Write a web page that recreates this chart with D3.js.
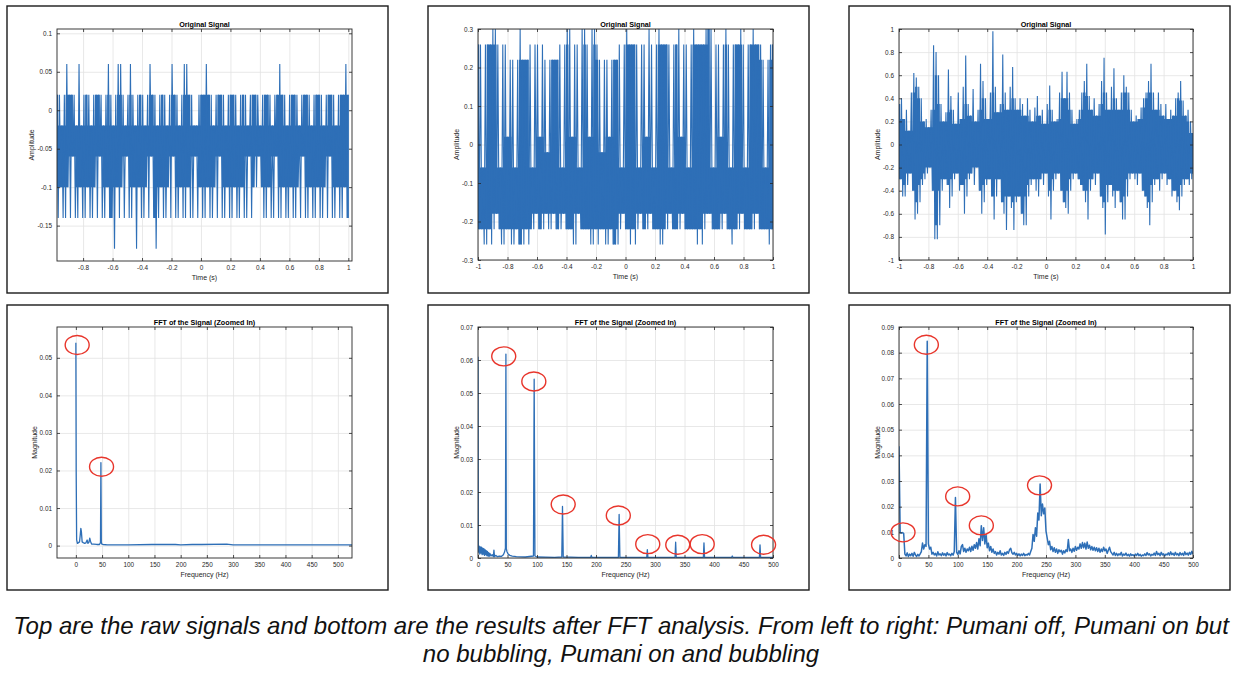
<!DOCTYPE html>
<html>
<head>
<meta charset="utf-8">
<script src="https://cdn.jsdelivr.net/npm/d3@7"></script>
<style>
body { margin: 0; background: #fff; }
svg text { font-family: "Liberation Sans", Arial, sans-serif; }
</style>
</head>
<body>
<div id="chart"></div>
<script>
// ---- tick labels ----
const timeTicks = [-1, -0.8, -0.6, -0.4, -0.2, 0, 0.2, 0.4, 0.6, 0.8, 1];
const freqTicks = [0, 50, 100, 150, 200, 250, 300, 350, 400, 450, 500];
const ampTicks1 = [-0.15, -0.1, -0.05, 0, 0.05, 0.1];
const ampTicks2 = [-0.3, -0.2, -0.1, 0, 0.1, 0.2, 0.3];
const ampTicks3 = [-1, -0.8, -0.6, -0.4, -0.2, 0, 0.2, 0.4, 0.6, 0.8, 1];
const magTicks1 = [0, 0.01, 0.02, 0.03, 0.04, 0.05];
const magTicks2 = [0, 0.01, 0.02, 0.03, 0.04, 0.05, 0.06, 0.07];
const magTicks3 = [0, 0.01, 0.02, 0.03, 0.04, 0.05, 0.06, 0.07, 0.08, 0.09];

// ---- raw signals: max / min of each short time slice ----
// Pumani off
const hi1 = [0.02,0.02,-0.02,0.02,0.06,0.02,0.02,0.02,-0.02,0.06,
  -0.02,0.02,0.02,0.02,-0.02,0.02,0.02,0.02,0.02,-0.02,
  0.02,0.06,0.02,-0.02,0.02,0.06,0.06,0.02,-0.02,0.02,
  0.06,0.02,-0.02,0.02,0.02,0.02,-0.02,0.02,0.06,0.02,
  0.02,-0.02,0.02,0.02,0.02,-0.02,0.02,0.06,0.02,0.02,
  -0.02,0.02,0.06,0.06,0.02,0.02,-0.02,-0.02,0.02,0.02,
  0.02,0.06,0.02,0.02,-0.02,0.02,0.02,0.02,0.02,-0.02,
  0.02,0.02,0.02,0.02,-0.02,0.02,0.02,0.02,-0.02,0.02,
  0.02,0.02,0.02,-0.02,0.02,0.02,0.02,0.02,-0.02,0.02,
  0.02,0.06,0.02,0.02,-0.02,0.02,0.02,0.02,0.02,-0.02,
  0.02,0.02,0.02,0.02,-0.02,0.02,0.02,0.02,0.02,-0.02,
  0.02,0.02,0.02,0.02,-0.02,0.02,0.02,0.02,0.06,0.02];
const lo1 = [-0.14,-0.1,-0.14,-0.14,-0.1,-0.14,-0.06,-0.14,-0.14,-0.1,
  -0.14,-0.14,-0.1,-0.14,-0.14,-0.1,-0.14,-0.06,-0.14,-0.14,
  -0.1,-0.14,-0.14,-0.18,-0.1,-0.14,-0.1,-0.14,-0.06,-0.14,
  -0.14,-0.1,-0.18,-0.1,-0.14,-0.14,-0.1,-0.14,-0.06,-0.14,
  -0.18,-0.14,-0.1,-0.14,-0.14,-0.1,-0.14,-0.06,-0.14,-0.14,
  -0.1,-0.14,-0.14,-0.1,-0.14,-0.14,-0.06,-0.14,-0.1,-0.14,
  -0.14,-0.1,-0.14,-0.14,-0.1,-0.14,-0.06,-0.14,-0.14,-0.1,
  -0.14,-0.14,-0.1,-0.14,-0.14,-0.1,-0.14,-0.14,-0.06,-0.14,
  -0.1,-0.1,-0.06,-0.1,-0.14,-0.14,-0.1,-0.14,-0.14,-0.06,
  -0.14,-0.14,-0.1,-0.14,-0.14,-0.1,-0.14,-0.14,-0.1,-0.14,
  -0.06,-0.14,-0.14,-0.1,-0.14,-0.14,-0.1,-0.14,-0.14,-0.1,
  -0.14,-0.06,-0.14,-0.14,-0.1,-0.14,-0.14,-0.1,-0.14,-0.14];

// Pumani on, no bubbling
const hi2 = [0.26,0.26,-0.06,0.26,0.26,0.26,0.3,0.3,0.26,-0.06,
  0.26,0.26,0.02,0.22,0.22,-0.06,0.22,0.3,0.22,0.22,
  0.22,0.26,-0.06,0.26,0.26,0.02,0.26,0.22,-0.02,0.22,
  0.22,0.22,0.22,0.26,-0.06,0.26,0.3,0.3,0.02,0.26,
  0.26,-0.06,0.3,0.3,0.26,0.02,0.3,0.3,0.26,0.22,
  -0.02,0.22,0.22,0.02,0.22,0.22,0.22,0.26,-0.06,0.26,
  0.3,0.26,0.26,0.26,0.26,-0.06,0.26,0.26,0.02,0.3,
  0.26,-0.06,0.26,0.3,0.26,0.26,0.26,0.26,-0.06,0.26,
  0.26,0.3,0.02,0.26,0.26,-0.06,0.26,0.3,0.26,0.26,
  0.26,0.26,0.3,0.3,0.3,-0.06,0.26,0.26,0.02,0.26,
  0.3,0.26,-0.06,0.26,0.26,0.26,0.3,0.26,-0.06,0.26,
  0.26,0.3,0.26,0.26,0.26,0.22,-0.06,0.22,0.26,0.26];
const lo2 = [-0.22,-0.22,-0.26,-0.26,-0.22,-0.26,-0.22,-0.18,-0.22,-0.26,
  -0.26,-0.22,-0.22,-0.26,-0.26,-0.22,-0.26,-0.26,-0.26,-0.22,
  -0.26,-0.22,-0.22,-0.18,-0.22,-0.22,-0.22,-0.18,-0.22,-0.22,
  -0.18,-0.22,-0.22,-0.22,-0.18,-0.22,-0.22,-0.22,-0.26,-0.26,
  -0.18,-0.22,-0.22,-0.22,-0.22,-0.26,-0.26,-0.22,-0.26,-0.22,
  -0.22,-0.26,-0.26,-0.22,-0.26,-0.26,-0.26,-0.22,-0.18,-0.22,
  -0.22,-0.26,-0.22,-0.26,-0.22,-0.18,-0.22,-0.22,-0.22,-0.18,
  -0.22,-0.22,-0.22,-0.26,-0.26,-0.22,-0.22,-0.18,-0.22,-0.22,
  -0.22,-0.22,-0.18,-0.22,-0.22,-0.22,-0.22,-0.22,-0.26,-0.22,
  -0.26,-0.22,-0.18,-0.18,-0.22,-0.22,-0.22,-0.22,-0.22,-0.18,
  -0.22,-0.22,-0.26,-0.22,-0.22,-0.22,-0.18,-0.22,-0.22,-0.22,
  -0.22,-0.22,-0.18,-0.22,-0.22,-0.22,-0.22,-0.26,-0.22,-0.22];

// Pumani on and bubbling
const hi3 = [0.35,0.4,0.22,0.3,0.12,0.45,0.62,0.58,0.5,0.4,
  0.2,0.22,0.15,0.3,0.86,0.8,0.6,0.35,0.2,0.28,
  0.65,0.42,0.3,0.18,0.45,0.22,0.5,0.77,0.35,0.25,
  0.48,0.2,0.3,0.7,0.55,0.4,0.22,0.45,0.98,0.5,
  0.28,0.35,0.78,0.45,0.3,0.5,0.67,0.4,0.3,0.4,
  0.35,0.25,0.4,0.3,0.2,0.32,0.42,0.25,0.3,0.18,
  0.35,0.51,0.3,0.2,0.22,0.45,0.63,0.4,0.63,0.45,
  0.3,0.18,0.22,0.3,0.45,0.55,0.7,0.42,0.3,0.4,
  0.25,0.35,0.55,0.75,0.45,0.3,0.5,0.66,0.4,0.3,
  0.45,0.6,0.5,0.45,0.3,0.2,0.25,0.22,0.32,0.4,
  0.45,0.55,0.7,0.45,0.3,0.45,0.35,0.25,0.35,0.22,
  0.3,0.25,0.4,0.45,0.55,0.38,0.25,0.3,0.2,0.1];
const lo3 = [-0.3,-0.45,-0.45,-0.35,-0.25,-0.4,-0.65,-0.6,-0.5,-0.35,
  -0.3,-0.25,-0.2,-0.4,-0.82,-0.82,-0.7,-0.4,-0.3,-0.35,
  -0.55,-0.45,-0.3,-0.25,-0.4,-0.35,-0.6,-0.45,-0.3,-0.25,
  -0.35,-0.2,-0.4,-0.6,-0.5,-0.35,-0.3,-0.45,-0.65,-0.45,
  -0.3,-0.5,-0.6,-0.74,-0.45,-0.55,-0.74,-0.5,-0.45,-0.6,
  -0.7,-0.7,-0.45,-0.35,-0.3,-0.4,-0.45,-0.3,-0.35,-0.25,
  -0.45,-0.65,-0.4,-0.3,-0.25,-0.4,-0.5,-0.55,-0.6,-0.4,
  -0.3,-0.25,-0.3,-0.35,-0.4,-0.5,-0.65,-0.4,-0.3,-0.35,
  -0.25,-0.45,-0.55,-0.78,-0.5,-0.35,-0.45,-0.55,-0.4,-0.5,
  -0.65,-0.65,-0.45,-0.3,-0.25,-0.3,-0.35,-0.25,-0.4,-0.45,
  -0.55,-0.7,-0.5,-0.35,-0.3,-0.4,-0.3,-0.25,-0.35,-0.3,
  -0.45,-0.4,-0.5,-0.57,-0.45,-0.35,-0.3,-0.35,-0.3,-0.25];

// ---- FFT magnitudes ----
const freq4 = [0,0.6,1.5,3,5,7,8.5,9.5,10.5,12,14,17,19,21.5,23,25,26.5,28,30,34,
  40,45,47,47.8,48.6,49.5,52,60,80,100,145,190,200,222,240,288,300,400,527];
const mag4 = [0.054,0.02,0.0015,0.0006,0.0008,0.001,0.003,0.0046,0.0038,0.001,
  0.0008,0.0006,0.0007,0.0015,0.0006,0.0009,0.002,0.0011,0.0004,0.0004,
  0.0003,0.0003,0.0008,0.0221,0.0009,0.0004,0.0003,0.0002,0.0002,0.0002,
  0.0003,0.0003,0.0002,0.0003,0.0003,0.0004,0.0002,0.0002,0.0002];

const freq5 = [0,0.5,1,2,3,4,5,6,7,8,9,10,11,12,13,14,15,16,17,18,
  19,20,22,24,26,27,28,30,33,36,40,43,45,46.5,47.3,48,49,51,54,58,
  65,80,94,95.2,96.5,100,130,142,143.2,144.5,170,191,192,193,220,238,239.2,240.5,286,287,
  288,334,335,336,382,383,384,430,431,432,477,478,479,500];
const mag5 = [0.061,0.003,0.0018,0.0036,0.0012,0.0034,0.0015,0.0033,0.001,0.003,
  0.0012,0.0028,0.0008,0.0025,0.001,0.0022,0.0007,0.002,0.0006,0.0016,
  0.0005,0.0014,0.0006,0.001,0.0004,0.0024,0.0004,0.0008,0.0004,0.0006,
  0.0005,0.001,0.0018,0.003,0.0618,0.0028,0.002,0.0012,0.0008,0.0006,
  0.0004,0.0003,0.0006,0.0542,0.0006,0.0003,0.0002,0.0003,0.0156,0.0003,
  0.0002,0.0002,0.0008,0.0002,0.0002,0.0002,0.0132,0.0002,0.0002,0.0025,
  0.0002,0.0002,0.0048,0.0002,0.0002,0.0046,0.0002,0.0002,0.0006,0.0002,
  0.0002,0.004,0.0002,0.0002];

// every 2 Hz from 0 to 500
const mag6 = [0.0435,0.0098,0.0097,0.0099,0.0095,0.0015,0.0008,0.002,0.0006,0.0015,
  0.0009,0.0018,0.0007,0.0022,0.0012,0.0006,0.0014,0.0008,0.0016,0.0025,
  0.0058,0.0035,0.0052,0.0045,0.0844,0.0055,0.0035,0.0042,0.0015,0.0022,
  0.0012,0.0018,0.0008,0.0024,0.0012,0.0016,0.0009,0.002,0.0011,0.0017,
  0.0008,0.0021,0.0012,0.0015,0.0009,0.0018,0.0011,0.0025,0.0236,0.0022,
  0.0014,0.0028,0.0016,0.0045,0.0052,0.0025,0.0038,0.0022,0.0035,0.0028,
  0.0042,0.0025,0.0046,0.003,0.0052,0.0038,0.006,0.0035,0.0075,0.0048,
  0.0126,0.0068,0.0118,0.0055,0.0092,0.004,0.0058,0.0028,0.0045,0.0022,
  0.0035,0.0018,0.0025,0.0012,0.0022,0.0015,0.0028,0.0012,0.0018,0.001,
  0.0022,0.0014,0.0025,0.0018,0.0032,0.0038,0.002,0.0015,0.0022,0.0012,
  0.0018,0.001,0.0016,0.0008,0.0015,0.001,0.0018,0.0009,0.0014,0.0011,
  0.0018,0.0012,0.0025,0.0038,0.0092,0.0065,0.0118,0.0085,0.0175,0.0148,
  0.0288,0.0165,0.021,0.0172,0.0195,0.0105,0.0078,0.0052,0.0065,0.0032,
  0.0045,0.0025,0.004,0.0022,0.0035,0.0018,0.0032,0.0024,0.003,0.0015,
  0.0028,0.002,0.0032,0.0025,0.0072,0.0028,0.0035,0.0022,0.0038,0.0026,
  0.0045,0.003,0.0042,0.0035,0.0055,0.0038,0.006,0.004,0.0058,0.0035,
  0.0062,0.0038,0.005,0.0032,0.0045,0.003,0.0042,0.0028,0.004,0.0025,
  0.0038,0.0022,0.0035,0.0025,0.0042,0.0028,0.0035,0.0018,0.003,0.0042,
  0.0025,0.0018,0.0012,0.0022,0.001,0.0018,0.0009,0.0016,0.0012,0.0022,
  0.0008,0.0015,0.0011,0.0019,0.0009,0.0014,0.0007,0.0016,0.001,0.0013,
  0.0008,0.0015,0.001,0.0018,0.0009,0.0014,0.0007,0.0012,0.0009,0.0016,
  0.001,0.0021,0.0012,0.0016,0.0008,0.0014,0.0011,0.0019,0.001,0.0025,
  0.0013,0.0018,0.0009,0.0022,0.0012,0.0016,0.0008,0.0015,0.0012,0.002,
  0.0011,0.0024,0.0013,0.0018,0.001,0.0022,0.0012,0.0017,0.0009,0.0021,
  0.0012,0.0018,0.001,0.0024,0.0013,0.0019,0.0011,0.0022,0.0014,0.0026,
  0.0015];
const freq6 = d3.range(0, 501, 2);

// red rings marking the peaks [Hz, magnitude]
const rings4 = [[2.5, 0.0534], [49, 0.021]];
const rings5 = [[43.6, 0.0611], [94.6, 0.0535], [144.4, 0.0162], [237.8, 0.0129],
  [287.7, 0.0042], [338.6, 0.004], [380, 0.0042], [484, 0.004]];
const rings6 = [[6.8, 0.01], [46.5, 0.0831], [99.8, 0.024], [140, 0.0127], [239, 0.0283]];

const captionLines = [
  "Top are the raw signals and bottom are the results after FFT analysis. From left to right: Pumani off, Pumani on but",
  "no bubbling, Pumani on and bubbling"
];

// one [time, max, min] row per slice
const slices = (hi, lo, t0, t1) =>
  hi.map((h, i) => [t0 + i * (t1 - t0) / (hi.length - 1), h, lo[i]]);

const fmt = d => String(+d.toFixed(4));
const lineColor = '#2e6fb7';

const panels = [
  {key:'a', box:[7,6,381,287], plot:[57,29,295,232], title:'Original Signal', xLabel:'Time (s)', yLabel:'Amplitude', yOff:25,
   xDomain:[-0.977,1.025], yDomain:[-0.196,0.1056], xTicks:timeTicks, yTicks:ampTicks1,
   band:slices(hi1, lo1, -0.977, 1.0), rings:[]},
  {key:'b', box:[428,6,381,287], plot:[478,29,295,231], title:'Original Signal', xLabel:'Time (s)', yLabel:'Amplitude', yOff:21,
   xDomain:[-1,1], yDomain:[-0.3,0.3], xTicks:timeTicks, yTicks:ampTicks2,
   band:slices(hi2, lo2, -1, 1), rings:[]},
  {key:'c', box:[849,6,381,287], plot:[899,29,294,231], title:'Original Signal', xLabel:'Time (s)', yLabel:'Amplitude', yOff:21,
   xDomain:[-1,1], yDomain:[-1,1], xTicks:timeTicks, yTicks:ampTicks3,
   band:slices(hi3, lo3, -1, 1), rings:[]},
  {key:'d', box:[7,305,381,285], plot:[57,327,295,231], title:'FFT of the Signal (Zoomed In)', xLabel:'Frequency (Hz)', yLabel:'Magnitude', yOff:22,
   xDomain:[-36,527], yDomain:[-0.0033,0.0582], xTicks:freqTicks, yTicks:magTicks1, lw:1.3,
   points:freq4.map((f, i) => [f, mag4[i]]), rings:rings4},
  {key:'e', box:[428,305,381,285], plot:[478,327,295,231], title:'FFT of the Signal (Zoomed In)', xLabel:'Frequency (Hz)', yLabel:'Magnitude', yOff:21,
   xDomain:[0,500], yDomain:[0,0.07], xTicks:freqTicks, yTicks:magTicks2, lw:1.3,
   points:freq5.map((f, i) => [f, mag5[i]]), rings:rings5},
  {key:'f', box:[849,305,381,285], plot:[899,327,294,231], title:'FFT of the Signal (Zoomed In)', xLabel:'Frequency (Hz)', yLabel:'Magnitude', yOff:21,
   xDomain:[0,500], yDomain:[0,0.09], xTicks:freqTicks, yTicks:magTicks3, lw:1.5,
   points:freq6.map((f, i) => [f, mag6[i]]), rings:rings6}
];

const drawPanel = (svg, p) => {
  const [bx, by, bw, bh] = p.box;
  const [px, py, w, h] = p.plot;
  svg.append('rect')
    .attr('x', bx).attr('y', by).attr('width', bw).attr('height', bh)
    .attr('fill', 'none').attr('stroke', '#1a1a1a').attr('stroke-width', 1.4);

  const g = svg.append('g').attr('transform', `translate(${px},${py})`);
  const x = d3.scaleLinear().domain(p.xDomain).range([0, w]);
  const y = d3.scaleLinear().domain(p.yDomain).range([h, 0]);
  const xt = p.xTicks.filter(d => d >= p.xDomain[0] && d <= p.xDomain[1]);
  const yt = p.yTicks.filter(d => d >= p.yDomain[0] && d <= p.yDomain[1]);

  // grid
  g.append('g').attr('transform', `translate(0,${h})`)
    .call(d3.axisBottom(x).tickValues(xt).tickSize(-h).tickFormat(''))
    .call(a => a.select('.domain').remove())
    .selectAll('line').attr('stroke', '#e2e2e2').attr('stroke-width', 0.8);
  g.append('g')
    .call(d3.axisLeft(y).tickValues(yt).tickSize(-w).tickFormat(''))
    .call(a => a.select('.domain').remove())
    .selectAll('line').attr('stroke', '#e2e2e2').attr('stroke-width', 0.8);

  // signal
  g.append('clipPath').attr('id', 'clip-' + p.key)
    .append('rect').attr('width', w).attr('height', h);
  const plotArea = g.append('g').attr('clip-path', `url(#clip-${p.key})`);
  if (p.band) {
    const b = p.band;
    // solid core: the range every neighbouring slice passes through
    const near = i => b.slice(Math.max(0, i - 1), i + 2);
    plotArea.append('path')
      .datum(b)
      .attr('fill', lineColor)
      .attr('d', d3.area().curve(d3.curveStep)
        .x(d => x(d[0]))
        .y0((d, i) => y(d3.max(near(i), e => e[2])))
        .y1((d, i) => y(d3.min(near(i), e => e[1]))));
    // the sampled trace swinging between each slice's max and min
    const trace = b.flatMap((d, i) => {
      const dt = i < b.length - 1 ? (b[i + 1][0] - d[0]) / 2 : 0;
      return [[d[0], d[1]], [d[0] + dt, d[2]]];
    });
    plotArea.append('path')
      .datum(trace)
      .attr('fill', 'none')
      .attr('stroke', lineColor)
      .attr('stroke-width', 1.1)
      .attr('d', d3.line().x(d => x(d[0])).y(d => y(d[1])));
  } else {
    plotArea.append('path')
      .datum(p.points)
      .attr('fill', 'none')
      .attr('stroke', lineColor)
      .attr('stroke-width', p.lw)
      .attr('stroke-linejoin', 'round')
      .attr('d', d3.line().x(d => x(d[0])).y(d => y(d[1])));
  }

  // box + inward ticks
  g.append('rect').attr('width', w).attr('height', h)
    .attr('fill', 'none').attr('stroke', '#262626').attr('stroke-width', 0.9);
  const styleAxis = a => {
    a.select('.domain').remove();
    a.selectAll('line').attr('stroke', '#262626').attr('stroke-width', 0.8);
    a.selectAll('text').attr('fill', '#262626').style('font-size', '6.4px');
  }
  g.append('g').attr('transform', `translate(0,${h})`)
    .call(d3.axisBottom(x).tickValues(xt).tickFormat(fmt).tickSizeInner(-3).tickSizeOuter(0).tickPadding(4))
    .call(styleAxis);
  g.append('g')
    .call(d3.axisTop(x).tickValues(xt).tickFormat('').tickSizeInner(-3).tickSizeOuter(0))
    .call(styleAxis);
  g.append('g')
    .call(d3.axisLeft(y).tickValues(yt).tickFormat(fmt).tickSizeInner(-3).tickSizeOuter(0).tickPadding(5))
    .call(styleAxis);
  g.append('g').attr('transform', `translate(${w},0)`)
    .call(d3.axisRight(y).tickValues(yt).tickFormat('').tickSizeInner(-3).tickSizeOuter(0))
    .call(styleAxis);

  // texts
  g.append('text').attr('x', w / 2).attr('y', -2.5)
    .attr('text-anchor', 'middle').style('font-size', '7.2px').style('font-weight', 'bold')
    .attr('fill', '#000').text(p.title);
  g.append('text').attr('x', w / 2).attr('y', h + 18.5)
    .attr('text-anchor', 'middle').style('font-size', '7px')
    .attr('fill', '#262626').text(p.xLabel);
  g.append('text')
    .attr('transform', `translate(${-p.yOff},${h / 2}) rotate(-90)`)
    .attr('dy', '0.35em')
    .attr('text-anchor', 'middle').style('font-size', '7px')
    .attr('fill', '#262626').text(p.yLabel);

  // red rings
  g.selectAll('ellipse.ring')
    .data(p.rings)
    .enter()
    .append('ellipse')
    .attr('class', 'ring')
    .attr('cx', d => x(d[0]))
    .attr('cy', d => y(d[1]))
    .attr('rx', 12)
    .attr('ry', 9.5)
    .attr('fill', 'none')
    .attr('stroke', '#e8362c')
    .attr('stroke-width', 1.4);
}

const main = () => {
  const svg = d3.select('#chart')
    .append('svg')
    .attr('width', 1242)
    .attr('height', 678)
    .style('display', 'block');
  svg.append('rect').attr('width', 1242).attr('height', 678).attr('fill', '#fff');

  panels.forEach(p => drawPanel(svg, p));

  svg.selectAll('text.caption')
    .data(captionLines)
    .enter()
    .append('text')
    .attr('class', 'caption')
    .attr('x', 621)
    .attr('y', (d, i) => 634 + i * 28)
    .attr('text-anchor', 'middle')
    .style('font-size', '24px')
    .style('font-style', 'italic')
    .attr('fill', '#111')
    .text(d => d);
}

window.onload = main;
</script>
</body>
</html>
